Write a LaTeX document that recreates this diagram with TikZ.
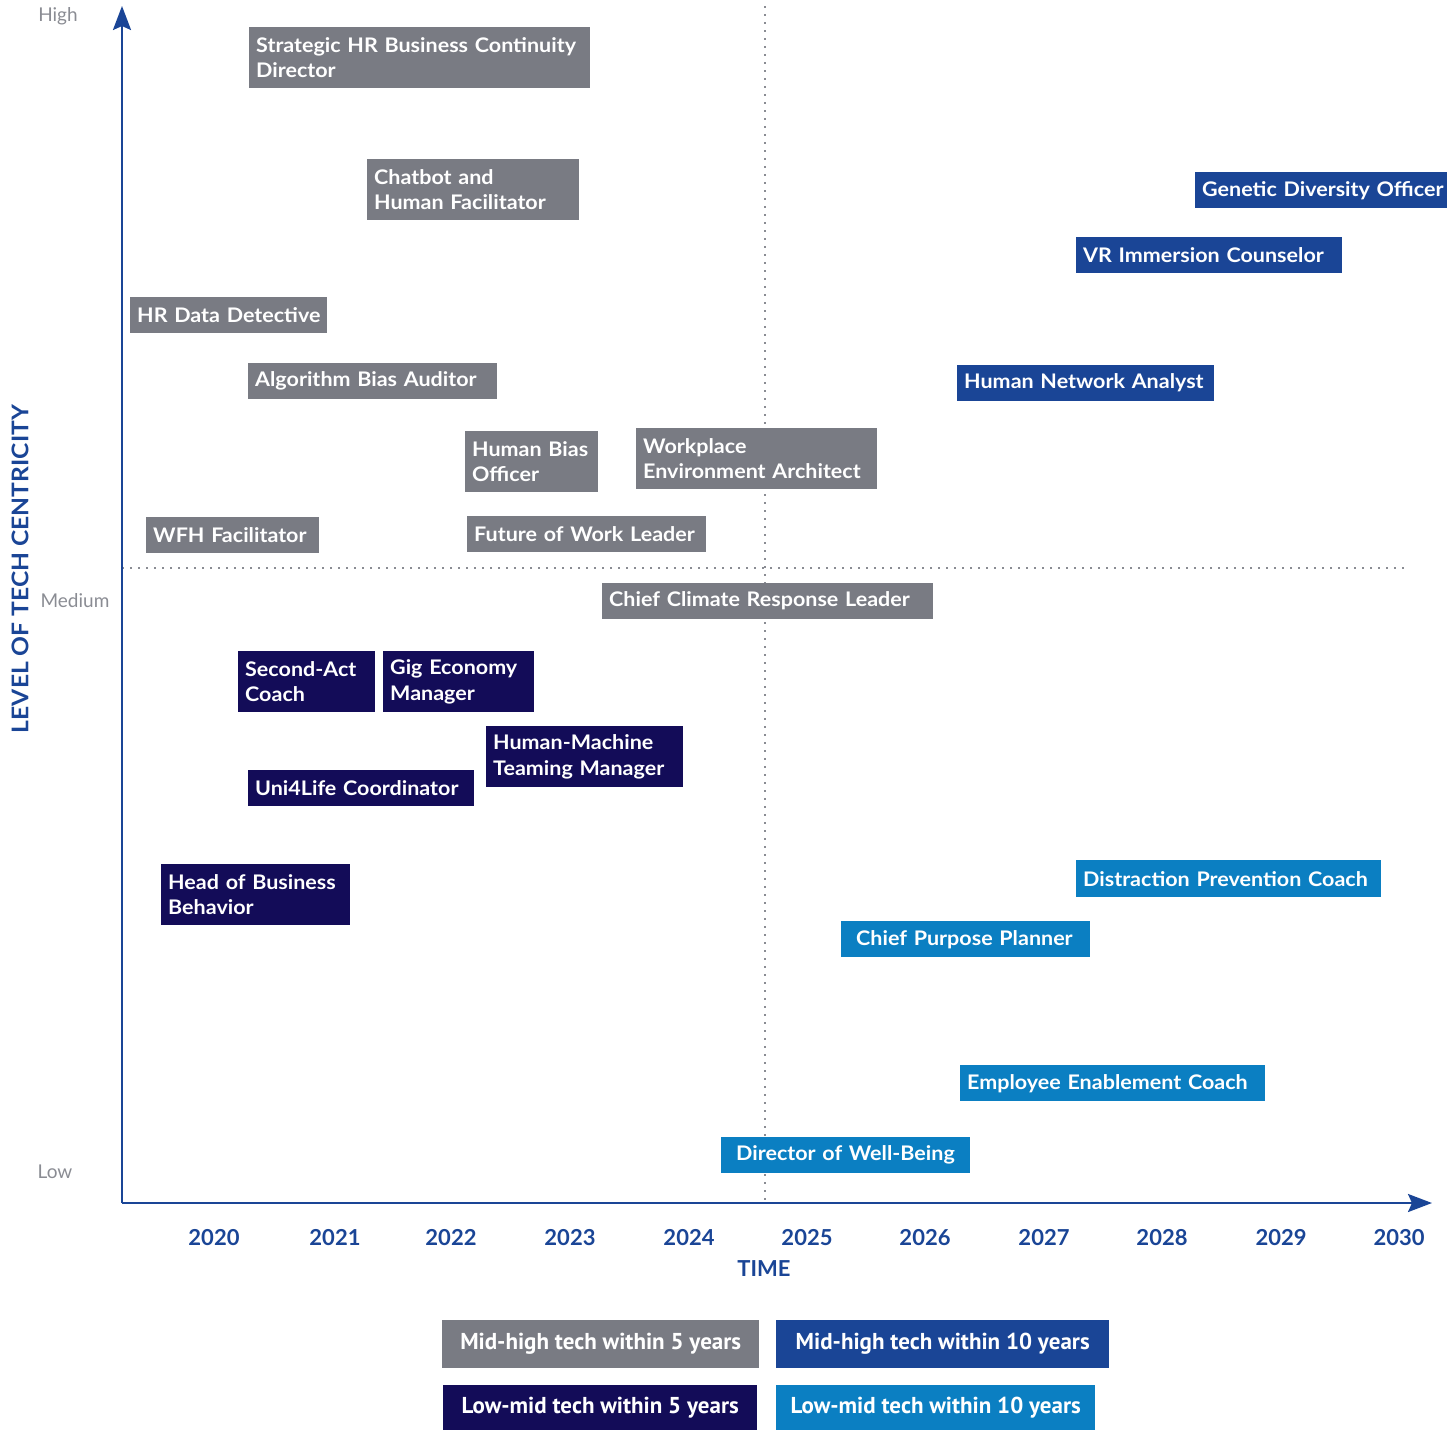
\documentclass[tikz,border=0pt]{standalone}
\usepackage{fontspec}
\setmainfont{Lato}
\newfontfamily\boxfont{Lato}[FakeStretch=1.07]
\newfontfamily\legfont{PT Sans}
\usetikzlibrary{arrows.meta}
\definecolor{jgray}{HTML}{797B83}
\definecolor{jblue}{HTML}{1A4596}
\definecolor{jnavy}{HTML}{130C58}
\definecolor{jlight}{HTML}{0B7FC2}
\definecolor{lblgray}{HTML}{8A8C93}
\definecolor{dotgray}{HTML}{8A8C93}
\begin{document}
\begin{tikzpicture}[x=1pt,y=-1pt,
  jb/.style={anchor=north west, inner xsep=7pt, inner ysep=0pt, align=left,
    font=\boxfont\fontsize{20.1}{25.5}\selectfont\bfseries, text=white},
  gbox/.style={jb, fill=jgray},
  bbox/.style={jb, fill=jblue},
  nbox/.style={jb, fill=jnavy},
  lbox/.style={jb, fill=jlight},
  lvl/.style={font=\fontsize{19}{22}\selectfont, text=lblgray},
  yr/.style={font=\fontsize{22}{24}\selectfont\bfseries, text=jblue},
  axisline/.style={line width=2.4pt, draw=jblue, -{Stealth[length=24pt,width=18pt,inset=4pt]}},
  grid/.style={line width=1.3pt, draw=dotgray, dash pattern=on 2pt off 6pt},
  leg/.style={anchor=north west, inner sep=0pt, font=\legfont\fontsize{23}{26}\selectfont\bfseries, text=white}
]
\useasboundingbox (0,0) rectangle (1447,1430);

% grid lines
\coordinate (hl) at (122,568);
\coordinate (hr) at (1405,568);
\coordinate (vt) at (765,6);
\coordinate (vb) at (765,1200);
\draw[grid] (hl) -- (hr);
\draw[grid] (vt) -- (vb);

% axes
\coordinate (o) at (122,1203);
\coordinate (ytop) at (122,6);
\coordinate (xend) at (1432,1203);
\draw[axisline] (o) -- (ytop);
\draw[axisline] (o) -- (xend);

% level labels
\node[lvl] (high) at (58,16) {High};
\node[lvl] (med) at (75,601) {Medium};
\node[lvl] (low) at (55,1172) {Low};
\node[rotate=90, font=\boxfont\fontsize{23}{25}\selectfont\bfseries, text=jblue] (ytitle) at (20,569) {LEVEL OF TECH CENTRICITY};

% years
\node[yr] (y2020) at (214,1238) {2020};
\node[yr] (y2021) at (335,1238) {2021};
\node[yr] (y2022) at (451,1238) {2022};
\node[yr] (y2023) at (570,1238) {2023};
\node[yr] (y2024) at (689,1238) {2024};
\node[yr] (y2025) at (807,1238) {2025};
\node[yr] (y2026) at (925,1238) {2026};
\node[yr] (y2027) at (1044,1238) {2027};
\node[yr] (y2028) at (1162,1238) {2028};
\node[yr] (y2029) at (1281,1238) {2029};
\node[yr] (y2030) at (1399,1238) {2030};
\node[yr] (time) at (764,1269) {TIME};

% gray boxes
\node[gbox, text width=327pt, minimum height=61pt] (strat) at (249,27) {\mbox{Strategic HR Business Continuity}\\\mbox{Director}};
\node[gbox, text width=198pt, minimum height=61pt] (chat) at (367,159) {\mbox{Chatbot and}\\\mbox{Human Facilitator}};
\node[gbox, text width=183pt, minimum height=36pt] (hrdd) at (130,297) {\mbox{HR Data Detective}};
\node[gbox, text width=235pt, minimum height=36pt] (algo) at (248,363) {\mbox{Algorithm Bias Auditor}};
\node[gbox, text width=119pt, minimum height=61pt] (hbias) at (465,431) {\mbox{Human Bias}\\\mbox{Officer}};
\node[gbox, text width=227pt, minimum height=61pt] (work) at (636,428) {\mbox{Workplace}\\\mbox{Environment Architect}};
\node[gbox, text width=159pt, minimum height=36pt] (wfh) at (146,517) {\mbox{WFH Facilitator}};
\node[gbox, text width=225pt, minimum height=36pt] (fow) at (467,516) {\mbox{Future of Work Leader}};
\node[gbox, text width=317pt, minimum height=36pt] (climate) at (602,583) {\mbox{Chief Climate Response Leader}};

% navy boxes
\node[nbox, text width=123pt, minimum height=61pt] (second) at (238,651) {\mbox{Second-Act}\\\mbox{Coach}};
\node[nbox, text width=137pt, minimum height=61pt] (gig) at (383,651) {\mbox{Gig Economy}\\\mbox{Manager}};
\node[nbox, text width=183pt, minimum height=61pt] (hmt) at (486,726) {\mbox{Human-Machine}\\\mbox{Teaming Manager}};
\node[nbox, text width=212pt, minimum height=36pt] (uni) at (248,770) {\mbox{Uni4Life Coordinator}};
\node[nbox, text width=175pt, minimum height=61pt] (hob) at (161,864) {\mbox{Head of Business}\\\mbox{Behavior}};

% blue boxes
\node[bbox, text width=238pt, minimum height=36pt] (gen) at (1195,172) {\mbox{Genetic Diversity Officer}};
\node[bbox, text width=252pt, minimum height=36pt] (vr) at (1076,237) {\mbox{VR Immersion Counselor}};
\node[bbox, text width=243pt, minimum height=36pt] (hna) at (957,365) {\mbox{Human Network Analyst}};

% light blue boxes
\node[lbox, text width=291pt, minimum height=37pt] (dist) at (1076,860) {\mbox{Distraction Prevention Coach}};
\node[lbox, text width=235pt, minimum height=36pt] (cpp) at (841,921) {\mbox{\hspace*{8pt}Chief Purpose Planner}};
\node[lbox, text width=291pt, minimum height=36pt] (eec) at (960,1065) {\mbox{Employee Enablement Coach}};
\node[lbox, text width=235pt, minimum height=36pt] (dwb) at (721,1137) {\mbox{\hspace*{8pt}Director of Well-Being}};

% legend
\node[leg, fill=jgray, minimum width=317pt, minimum height=48pt] (leg1) at (442,1320) {Mid-high tech within 5 years};
\node[leg, fill=jblue, minimum width=333pt, minimum height=48pt] (leg2) at (776,1320) {Mid-high tech within 10 years};
\node[leg, fill=jnavy, minimum width=314pt, minimum height=45pt] (leg3) at (443,1385) {Low-mid tech within 5 years};
\node[leg, fill=jlight, minimum width=319pt, minimum height=45pt] (leg4) at (776,1385) {Low-mid tech within 10 years};
\end{tikzpicture}
\end{document}
